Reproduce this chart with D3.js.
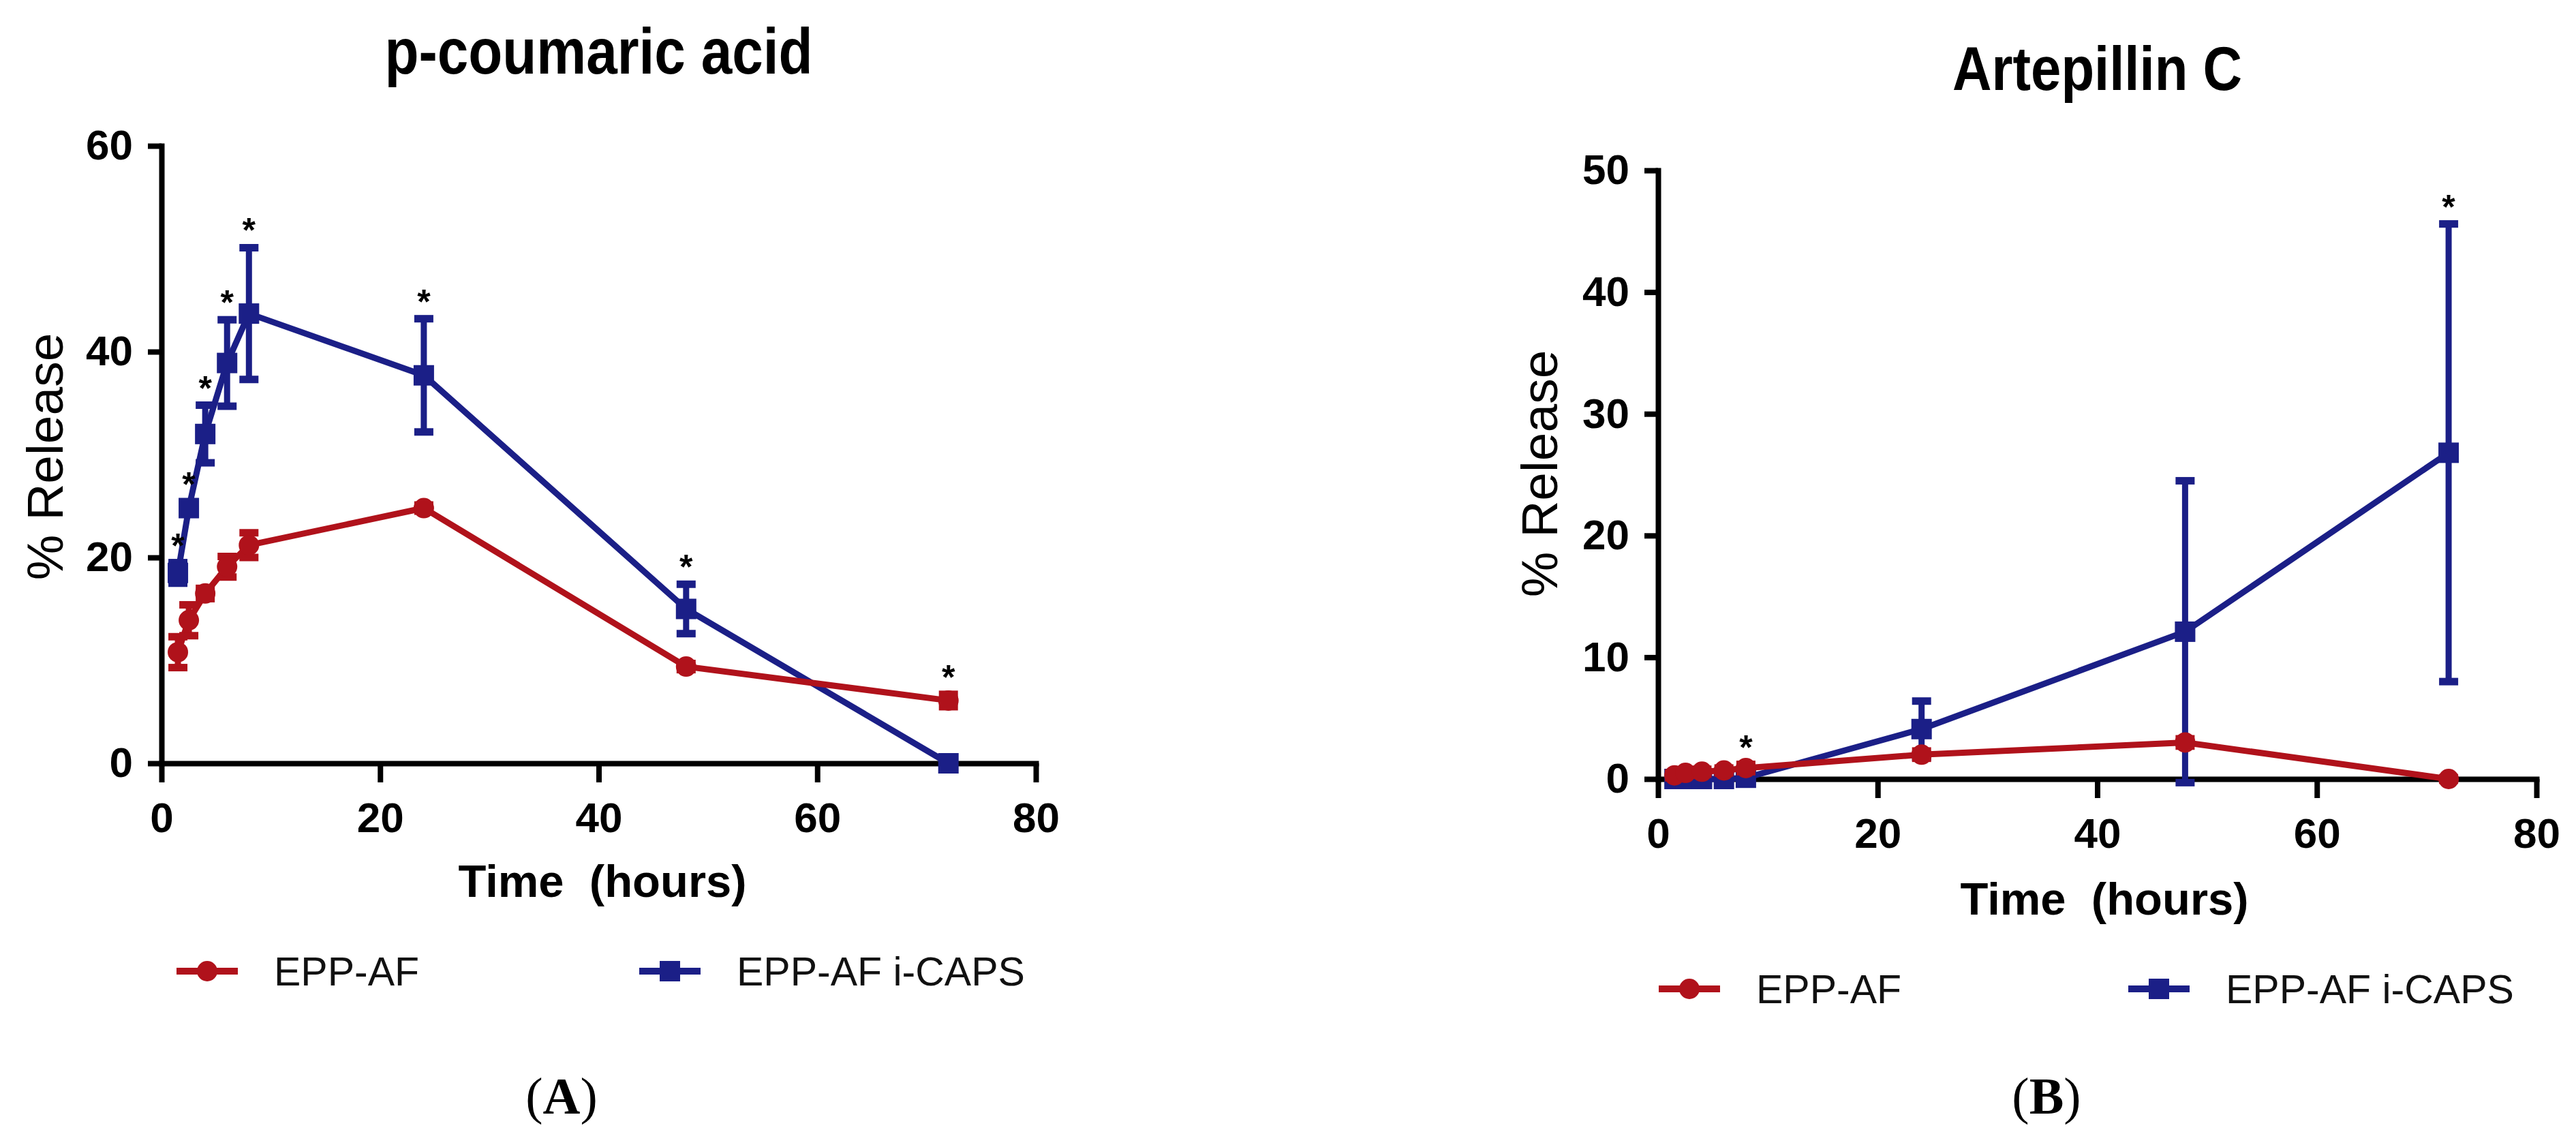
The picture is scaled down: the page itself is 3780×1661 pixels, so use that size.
<!DOCTYPE html>
<html><head><meta charset="utf-8">
<script src="https://cdn.jsdelivr.net/npm/d3@7"></script>
<style>html,body{margin:0;padding:0;background:#fff;} svg{display:block}</style>
</head><body>
<svg id="chart" width="3780" height="1661"></svg>
<script>
// ---------- data ----------
const times = [1.5, 2.5, 4, 6, 8, 24, 48, 72];
const xTicks = [0, 20, 40, 60, 80];
const seriesNames = ["EPP-AF", "EPP-AF i-CAPS"];

// Panel A : p-coumaric acid
const pcaTitle = "p-coumaric acid";
const pcaYTicks = [0, 20, 40, 60];
const pcaEPP      = [10.8, 13.9, 16.5, 19.1, 21.2, 24.8, 9.4, 6.1];
const pcaEPPErr   = [1.5, 1.5, 0.5, 1.0, 1.2, 0.3, 0.3, 0.6];
const pcaCaps     = [18.5, 24.8, 32.0, 38.9, 43.7, 37.7, 15.0, 0.0];
const pcaCapsErr  = [1.0, 0.6, 2.8, 4.2, 6.4, 5.5, 2.4, 0.0];
const pcaStarTimes = [1.5, 2.5, 4, 6, 8, 24, 48, 72];

// Panel B : Artepillin C
const artTitle = "Artepillin C";
const artYTicks = [0, 10, 20, 30, 40, 50];
const artEPP      = [0.3, 0.5, 0.6, 0.7, 0.9, 2.0, 3.0, 0.0];
const artEPPErr   = [0.2, 0.2, 0.2, 0.2, 0.3, 0.3, 0.3, 0.1];
const artCaps     = [0.0, 0.0, 0.0, 0.0, 0.1, 4.1, 12.1, 26.8];
const artCapsErr  = [0.1, 0.1, 0.1, 0.1, 0.2, 2.3, 12.4, 18.8];
const artStarTimes = [8, 72];

// ---------- styling ----------
const RED = "#b0121b", BLUE = "#1b1f87";
const SANS = "'Liberation Sans', Arial, Helvetica, sans-serif";
const SERIF = "'Liberation Serif', 'Times New Roman', serif";

const svg = d3.select("#chart");
svg.append("rect").attr("width", 3780).attr("height", 1661).attr("fill", "#fff");

function drawPanel(o) {
  const g = svg.append("g");
  const x = d3.scaleLinear().domain([0, 80]).range([o.x0, o.x1]);
  const y = d3.scaleLinear().domain([0, o.yMax]).range([o.y0, o.y1]);

  // axes
  const xa = g.append("g").attr("transform", `translate(0,${o.y0})`)
    .call(d3.axisBottom(x).tickValues(xTicks).tickSize(28).tickSizeOuter(0).tickPadding(29));
  const ya = g.append("g").attr("transform", `translate(${o.x0},0)`)
    .call(d3.axisLeft(y).tickValues(o.yTicks).tickSize(20).tickSizeOuter(0).tickPadding(22));
  [xa, ya].forEach(a => {
    a.select(".domain").attr("stroke", "#000").attr("stroke-width", 8).attr("stroke-linecap", "square");
    a.selectAll(".tick line").attr("stroke", "#000").attr("stroke-width", 8);
    a.selectAll(".tick text").attr("fill", "#000").attr("font-family", SANS)
      .attr("font-weight", "bold").attr("font-size", 62);
  });

  const series = [
    { vals: o.caps, err: o.capsErr, color: BLUE, shape: "square" },
    { vals: o.epp, err: o.eppErr, color: RED, shape: "circle" }
  ];
  const line = d3.line().x(d => x(d.t)).y(d => y(d.v));
  series.forEach(s => {
    const pts = times.map((t, i) => ({ t, v: s.vals[i], e: s.err[i] }));
    const sg = g.append("g");
    sg.append("path").datum(pts).attr("d", line).attr("fill", "none")
      .attr("stroke", s.color).attr("stroke-width", 9).attr("stroke-linejoin", "round");
    const eb = sg.selectAll(".eb").data(pts.filter(d => d.e > 0)).enter().append("g");
    eb.append("line").attr("x1", d => x(d.t)).attr("x2", d => x(d.t))
      .attr("y1", d => y(d.v - d.e)).attr("y2", d => y(d.v + d.e))
      .attr("stroke", s.color).attr("stroke-width", 9);
    [1, -1].forEach(sign => {
      eb.append("line").attr("x1", d => x(d.t) - 14).attr("x2", d => x(d.t) + 14)
        .attr("y1", d => y(d.v + sign * d.e)).attr("y2", d => y(d.v + sign * d.e))
        .attr("stroke", s.color).attr("stroke-width", 11);
    });
    if (s.shape === "square") {
      sg.selectAll(".mk").data(pts).enter().append("rect")
        .attr("x", d => x(d.t) - 15).attr("y", d => y(d.v) - 15)
        .attr("width", 30).attr("height", 30).attr("fill", s.color);
    } else {
      sg.selectAll(".mk").data(pts).enter().append("circle")
        .attr("cx", d => x(d.t)).attr("cy", d => y(d.v)).attr("r", 15).attr("fill", s.color);
    }
  });

  // significance stars
  o.starTimes.forEach(t => {
    const i = times.indexOf(t);
    const top = Math.max(o.epp[i] + o.eppErr[i], o.caps[i] + o.capsErr[i]);
    g.append("text").attr("x", x(t)).attr("y", y(top) - 37 + 29)
      .attr("text-anchor", "middle").attr("font-family", SANS).attr("font-weight", "bold")
      .attr("font-size", 50).attr("fill", "#000").text("*");
  });

  // title
  g.append("text").attr("x", (o.x0 + o.x1) / 2).attr("y", o.titleY)
    .attr("text-anchor", "middle").attr("font-family", SANS).attr("font-weight", "bold")
    .attr("font-size", o.titleSize).attr("textLength", o.titleW).attr("lengthAdjust", "spacingAndGlyphs")
    .text(o.title);

  // x axis title
  g.append("text").attr("x", o.xTitleX).attr("y", o.xTitleY)
    .attr("text-anchor", "middle").attr("font-family", SANS).attr("font-weight", "bold")
    .attr("font-size", 67).style("white-space", "pre").text("Time  (hours)");

  // y axis title
  g.append("text").attr("transform", `translate(${o.yTitleX},${o.yTitleY}) rotate(-90)`)
    .attr("text-anchor", "middle").attr("font-family", SANS)
    .attr("font-size", 75).text("% Release");

  // legend
  const lg = g.append("g");
  const items = [
    { name: seriesNames[0], color: RED, shape: "circle", lx: o.leg1 },
    { name: seriesNames[1], color: BLUE, shape: "square", lx: o.leg2 }
  ];
  items.forEach(it => {
    lg.append("line").attr("x1", it.lx).attr("x2", it.lx + 90)
      .attr("y1", o.legY).attr("y2", o.legY).attr("stroke", it.color).attr("stroke-width", 10);
    if (it.shape === "circle") {
      lg.append("circle").attr("cx", it.lx + 45).attr("cy", o.legY).attr("r", 15).attr("fill", it.color);
    } else {
      lg.append("rect").attr("x", it.lx + 30).attr("y", o.legY - 15).attr("width", 30).attr("height", 30).attr("fill", it.color);
    }
    lg.append("text").attr("x", it.lx + 143).attr("y", o.legY + 21)
      .attr("font-family", SANS).attr("font-size", 59).attr("fill", "#111").text(it.name);
  });

  // panel letter
  const pl = g.append("text").attr("x", o.letterX).attr("y", 1634).attr("text-anchor", "middle")
    .attr("font-family", SERIF).attr("font-size", 76).attr("fill", "#000");
  pl.append("tspan").text("(");
  pl.append("tspan").attr("font-weight", "bold").text(o.letter);
  pl.append("tspan").text(")");
}

drawPanel({
  x0: 237, x1: 1520, y0: 1120, y1: 214, yMax: 60, yTicks: pcaYTicks,
  epp: pcaEPP, eppErr: pcaEPPErr, caps: pcaCaps, capsErr: pcaCapsErr, starTimes: pcaStarTimes,
  title: pcaTitle, titleY: 108, titleSize: 95, titleW: 628,
  xTitleX: 884, xTitleY: 1316, yTitleX: 92, yTitleY: 670,
  legY: 1425, leg1: 259, leg2: 938, letter: "A", letterX: 824
});
drawPanel({
  x0: 2433, x1: 3722, y0: 1143, y1: 250, yMax: 50, yTicks: artYTicks,
  epp: artEPP, eppErr: artEPPErr, caps: artCaps, capsErr: artCapsErr, starTimes: artStarTimes,
  title: artTitle, titleY: 132, titleSize: 90, titleW: 425,
  xTitleX: 3088, xTitleY: 1342, yTitleX: 2285, yTitleY: 695,
  legY: 1451, leg1: 2434, leg2: 3123, letter: "B", letterX: 3003
});
</script>
</body></html>
